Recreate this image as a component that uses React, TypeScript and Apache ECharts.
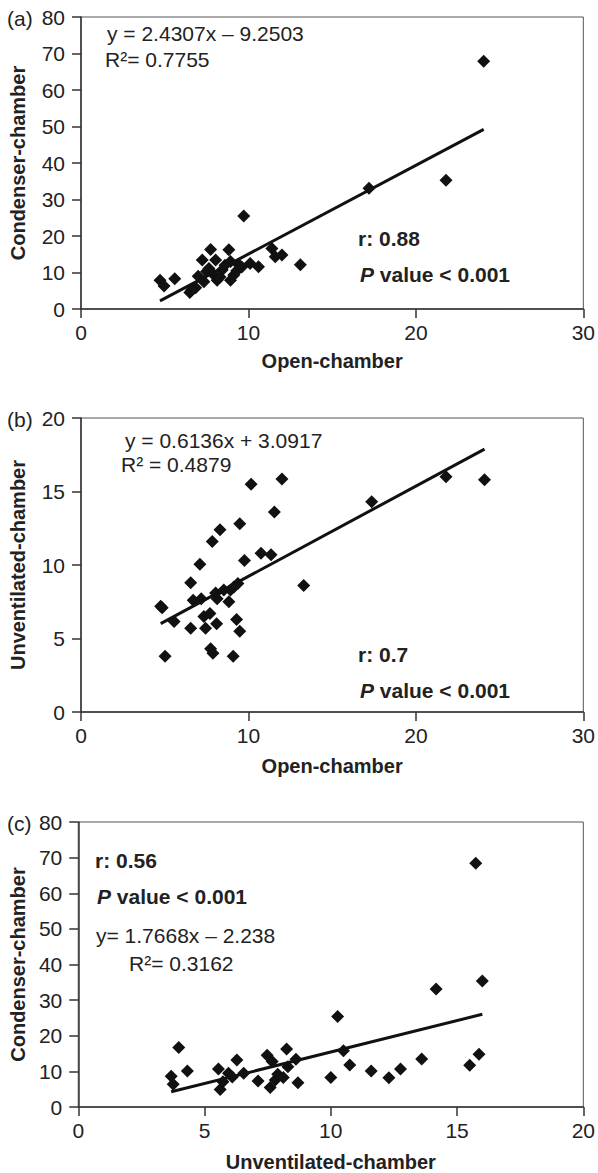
import React, { useEffect, useRef } from "react";
import * as echarts from "echarts";

const FONT = '"Liberation Sans", Arial, Helvetica, sans-serif';

// Panel (a): Open-chamber vs Condenser-chamber
const aOpen = [4.72, 4.96, 5.6, 6.5, 6.85, 7.34, 7.24, 7.74, 8.04, 7.64, 8.13, 8.43, 8.83, 8.93, 9.13, 9.42, 8.93, 9.72, 10.1, 10.6, 11.4, 11.6, 12.0, 13.1, 17.2, 21.8, 24.05, 7.0, 7.5, 7.9, 8.3, 8.6, 9.3, 9.6, 6.6];
const aCondenser = [7.9, 6.3, 8.3, 4.5, 5.8, 7.5, 13.4, 16.3, 13.4, 11.1, 7.9, 10.7, 16.2, 13.0, 9.3, 12.1, 7.9, 25.5, 12.5, 11.6, 16.6, 14.3, 14.8, 12.1, 33.1, 35.3, 67.9, 9.0, 10.3, 9.5, 8.8, 12.0, 10.5, 11.5, 5.2];

// Panel (b): Open-chamber vs Unventilated-chamber
const bOpen = [4.76, 4.85, 5.02, 5.56, 6.55, 6.55, 7.1, 6.7, 7.18, 7.34, 7.7, 7.44, 7.74, 7.88, 7.84, 8.3, 8.1, 8.04, 8.13, 8.53, 8.93, 8.83, 9.13, 9.37, 9.29, 9.48, 9.09, 9.48, 9.76, 10.16, 10.75, 11.35, 11.55, 12.0, 13.3, 17.36, 21.8, 24.1];
const bUnventilated = [7.2, 7.1, 3.8, 6.15, 8.8, 5.7, 10.05, 7.6, 7.7, 6.5, 6.7, 5.7, 4.3, 4.0, 11.6, 12.4, 6.0, 8.1, 7.7, 8.3, 8.3, 7.5, 8.5, 8.75, 6.3, 5.5, 3.8, 12.8, 10.3, 15.5, 10.8, 10.7, 13.6, 15.85, 8.6, 14.3, 16.0, 15.8];

// Panel (c): Unventilated-chamber vs Condenser-chamber
const cUnventilated = [3.68, 3.76, 3.98, 4.32, 5.55, 5.62, 5.73, 5.95, 6.1, 6.28, 6.55, 7.12, 7.48, 7.6, 7.68, 7.8, 7.9, 8.25, 8.12, 8.3, 8.62, 8.7, 10.0, 10.27, 10.5, 10.75, 11.6, 12.3, 12.76, 13.6, 14.17, 15.5, 15.74, 15.87, 16.0];
const cCondenser = [8.6, 6.4, 16.7, 10.1, 10.7, 4.9, 7.1, 9.5, 8.4, 13.2, 9.5, 7.3, 14.5, 5.5, 12.8, 7.6, 9.2, 16.3, 8.3, 11.3, 13.4, 6.8, 8.3, 25.4, 15.8, 11.8, 10.1, 8.2, 10.7, 13.5, 33.1, 11.7, 68.4, 14.8, 35.4];

// Regression equations as printed on the panels: [slope, intercept]
const aFit = [2.4307, -9.2503];
const bFit = [0.6136, 3.0917];
const cFit = [1.7668, -2.238];

const xTitles = ["Open-chamber", "Open-chamber", "Unventilated-chamber"];
const yTitles = ["Condenser-chamber", "Unventilated-chamber", "Condenser-chamber"];
const xMax = [30, 30, 20];
const xStep = [10, 10, 5];
const yMax = [80, 20, 80];
const yStep = [10, 5, 10];

function zip(xs: number[], ys: number[]) {
  return xs.map((x, i) => [x, ys[i]]);
}

function fitLine(xs: number[], fit: number[]) {
  const lo = Math.min(...xs);
  const hi = Math.max(...xs);
  return [
    [lo, fit[0] * lo + fit[1]],
    [hi, fit[0] * hi + fit[1]],
  ];
}

export default function App() {
  const ref = useRef<HTMLDivElement>(null);

  useEffect(() => {
    if (!ref.current) return;
    const chart = echarts.init(ref.current, null, { renderer: "svg" });

    const grids = [
      { left: 80, top: 17, width: 504, height: 292 },
      { left: 80, top: 418, width: 504, height: 294 },
      { left: 77, top: 822, width: 509, height: 285 },
    ].map((g) => ({ ...g, show: true, borderColor: "#555", borderWidth: 1, backgroundColor: "transparent" }));

    const axisLine = { show: true, onZero: false, lineStyle: { color: "#333", width: 1.5 } };
    const axisTick = { show: true, inside: false, length: 9, lineStyle: { color: "#333", width: 1.5 } };
    const nameGapX = [42, 44, 45];
    const nameGapY = [53, 53, 50];

    const xAxis = [0, 1, 2].map((i) => ({
      type: "value",
      gridIndex: i,
      min: 0,
      max: xMax[i],
      interval: xStep[i],
      axisLine,
      axisTick,
      splitLine: { show: false },
      axisLabel: { margin: 13, fontSize: 21, color: "#222", fontFamily: FONT },
      name: xTitles[i],
      nameLocation: "middle",
      nameGap: nameGapX[i],
      nameTextStyle: { fontSize: 20, fontWeight: "bold", color: "#222", fontFamily: FONT },
    }));

    const yAxis = [0, 1, 2].map((i) => ({
      type: "value",
      gridIndex: i,
      min: 0,
      max: yMax[i],
      interval: yStep[i],
      axisLine,
      axisTick,
      splitLine: { show: false },
      axisLabel: { margin: 16, fontSize: 21, color: "#222", fontFamily: FONT },
      name: yTitles[i],
      nameLocation: "middle",
      nameGap: nameGapY[i],
      nameRotate: 90,
      nameTextStyle: { fontSize: 20, fontWeight: "bold", color: "#222", fontFamily: FONT },
    }));

    const scatter = (i: number, xs: number[], ys: number[]) => ({
      type: "scatter",
      xAxisIndex: i,
      yAxisIndex: i,
      data: zip(xs, ys),
      symbol: "diamond",
      symbolSize: 13,
      itemStyle: { color: "#111", opacity: 1 },
      z: 3,
    });
    const trend = (i: number, xs: number[], fit: number[]) => ({
      type: "line",
      xAxisIndex: i,
      yAxisIndex: i,
      data: fitLine(xs, fit),
      showSymbol: false,
      symbol: "none",
      lineStyle: { color: "#111", width: 3 },
      z: 4,
    });

    const reg = (text: string, x: number, y: number) => ({
      type: "text",
      x,
      y,
      style: { text, fill: "#222", font: `21px ${FONT}`, verticalAlign: "middle", align: "left" },
    });
    const bold = (text: string, x: number, y: number) => ({
      type: "text",
      x,
      y,
      style: { text, fill: "#222", font: `bold 21px ${FONT}`, verticalAlign: "middle", align: "left" },
    });
    const pval = (x: number, y: number) => ({
      type: "text",
      x,
      y,
      style: {
        text: "{i|P}{b| value < 0.001}",
        verticalAlign: "middle",
        align: "left",
        rich: {
          i: { fontSize: 21, fontWeight: "bold", fontStyle: "italic", fontFamily: FONT, fill: "#222", color: "#222" },
          b: { fontSize: 21, fontWeight: "bold", fontFamily: FONT, fill: "#222", color: "#222" },
        },
      },
    });

    const graphic = [
      reg("(a)", 7, 18),
      reg("(b)", 7, 419),
      reg("(c)", 7, 823),
      reg("y = 2.4307x \u2013 9.2503", 107, 33),
      reg("R\u00b2= 0.7755", 105, 59),
      bold("r: 0.88", 358, 238),
      pval(360, 274),
      reg("y = 0.6136x + 3.0917", 125, 440),
      reg("R\u00b2 = 0.4879", 121, 464),
      bold("r: 0.7", 358, 654),
      pval(360, 690),
      bold("r: 0.56", 95, 860),
      pval(97, 896),
      reg("y= 1.7668x \u2013 2.238", 96, 935),
      reg("R\u00b2= 0.3162", 129, 963),
    ];

    chart.setOption({
      animation: false,
      backgroundColor: "#fff",
      grid: grids,
      xAxis,
      yAxis,
      series: [
        scatter(0, aOpen, aCondenser),
        trend(0, aOpen, aFit),
        scatter(1, bOpen, bUnventilated),
        trend(1, bOpen, bFit),
        scatter(2, cUnventilated, cCondenser),
        trend(2, cUnventilated, cFit),
      ],
      graphic,
    });

    return () => chart.dispose();
  }, []);

  return (
    <div
      ref={ref}
      style={{ position: "absolute", left: 0, top: 0, width: 598, height: 1173, background: "#fff" }}
    />
  );
}
